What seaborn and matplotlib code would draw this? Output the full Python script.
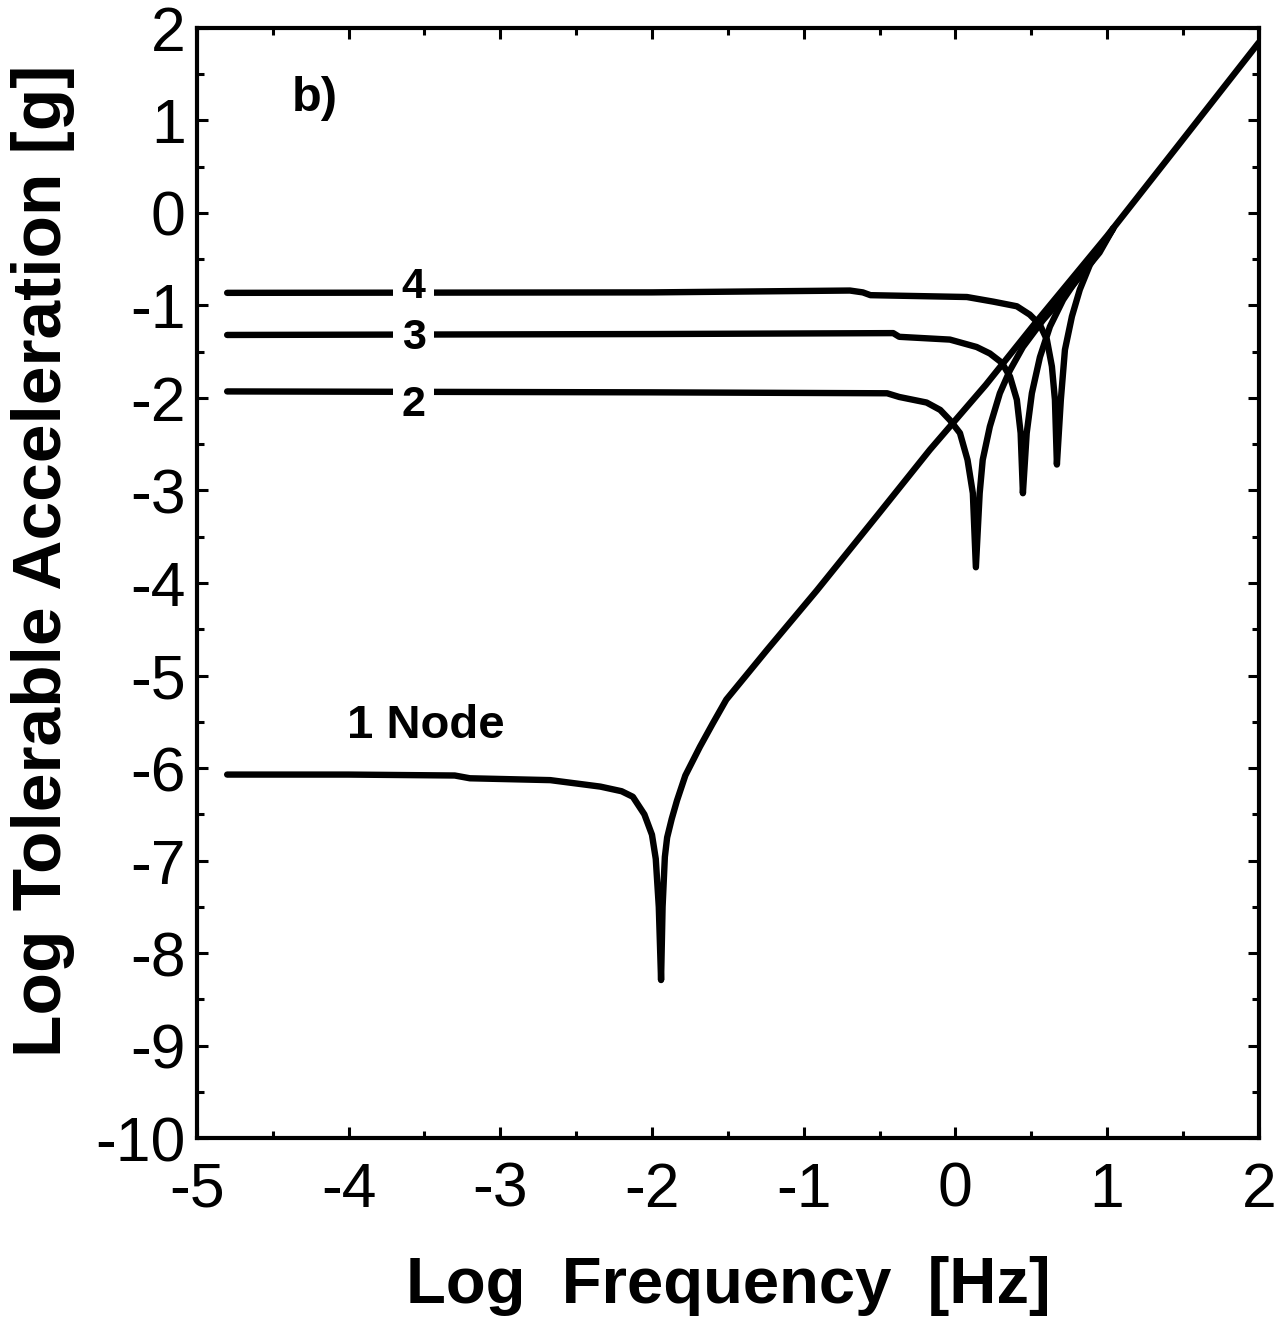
import matplotlib
matplotlib.use("Agg")
import matplotlib.pyplot as plt
from matplotlib.ticker import MultipleLocator
import numpy as np
import pandas as pd
import seaborn as sns

# ---------------- data ----------------
x_node1 = [-4.8, -4.0, -3.3, -3.2, -2.67, -2.34, -2.2, -2.126, -2.05, -2.0, -1.975,
           -1.955, -1.94, -1.93, -1.915, -1.9, -1.87, -1.835, -1.78, -1.684, -1.6,
           -1.51, -1.24, -0.913, -0.5, -0.168, 0.2, 0.537, 1.0, 1.46, 2.0]
y_node1 = [-6.07, -6.07, -6.08, -6.11, -6.13, -6.2, -6.25, -6.31, -6.5, -6.72, -6.98,
           -7.5, -8.29, -7.5, -6.96, -6.75, -6.55, -6.35, -6.08, -5.77, -5.52,
           -5.26, -4.72, -4.08, -3.24, -2.56, -1.86, -1.17, -0.25, 0.71, 1.84]

x_node2 = [-4.8, -2.0, -0.45, -0.37, -0.19, -0.10, -0.036, 0.03, 0.08, 0.115, 0.135,
           0.16, 0.18, 0.227, 0.293, 0.36, 0.445, 0.577, 0.71, 0.84, 0.95, 1.04]
y_node2 = [-1.93, -1.94, -1.95, -1.99, -2.05, -2.13, -2.24, -2.38, -2.67, -3.03, -3.83,
           -3.03, -2.67, -2.31, -1.95, -1.70, -1.45, -1.16, -0.91, -0.65, -0.43, -0.17]

x_node3 = [-4.8, -2.0, -0.41, -0.37, -0.036, 0.14, 0.227, 0.306, 0.36, 0.405, 0.43,
           0.445, 0.47, 0.504, 0.557, 0.623, 0.71, 0.80, 0.887, 0.97, 1.04]
y_node3 = [-1.32, -1.31, -1.30, -1.34, -1.37, -1.45, -1.52, -1.62, -1.77, -2.02, -2.38,
           -3.03, -2.38, -1.95, -1.56, -1.23, -0.94, -0.72, -0.52, -0.35, -0.17]

x_node4 = [-4.8, -2.0, -0.695, -0.61, -0.56, 0.076, 0.25, 0.405, 0.49, 0.557, 0.603,
           0.636, 0.656, 0.669, 0.695, 0.722, 0.768, 0.82, 0.887, 0.973, 1.04]
y_node4 = [-0.865, -0.86, -0.84, -0.86, -0.89, -0.91, -0.96, -1.01, -1.10, -1.21, -1.37,
           -1.66, -2.02, -2.72, -2.02, -1.48, -1.12, -0.83, -0.56, -0.34, -0.17]

curve_names = ["1", "2", "3", "4"]
label_x = [-3.49, -3.57, -3.57, -3.57]
label_y = [-5.55, -2.08, -1.35, -0.80]

# ---------------- build table ----------------
frames = []
for name, xs, ys in zip(curve_names, [x_node1, x_node2, x_node3, x_node4],
                        [y_node1, y_node2, y_node3, y_node4]):
    frames.append(pd.DataFrame({"logf": xs, "loga": ys, "curve": name}))
df = pd.concat(frames, ignore_index=True)

# ---------------- style ----------------
sns.set_theme(style="ticks")
plt.rcParams["font.family"] = ["Liberation Sans", "DejaVu Sans"]
plt.rcParams["axes.unicode_minus"] = False
for key in ["text.color", "axes.labelcolor", "xtick.color", "ytick.color", "axes.edgecolor"]:
    plt.rcParams[key] = "black"

fig = plt.figure(figsize=(12.78, 13.19), dpi=100)
ax = fig.add_axes([0.154, 0.137, 0.831, 0.842])

sns.lineplot(data=df, x="logf", y="loga", units="curve", estimator=None, sort=False,
             color="black", linewidth=4.6, ax=ax, legend=False)

ax.set_xlim(-5, 2)
ax.set_ylim(-10, 2)
ax.xaxis.set_major_locator(MultipleLocator(1))
ax.xaxis.set_minor_locator(MultipleLocator(0.5))
ax.yaxis.set_major_locator(MultipleLocator(1))
ax.yaxis.set_minor_locator(MultipleLocator(0.5))
ax.tick_params(which="both", direction="in", top=True, right=True, width=2.2, color="black")
ax.tick_params(which="major", length=8)
ax.tick_params(which="minor", length=5)
ax.tick_params(axis="x", which="major", pad=16, labelsize=45)
ax.tick_params(axis="y", which="major", pad=8, labelsize=45)
for sp in ax.spines.values():
    sp.set_linewidth(3)
    sp.set_color("black")

ax.set_xlabel("Log  Frequency  [Hz]", fontsize=47, fontweight="bold", labelpad=26)
ax.set_ylabel("Log Tolerable Acceleration [g]", fontsize=50, fontweight="bold")
ax.yaxis.set_label_coords(-0.1145, 0.52)

# curve labels
ax.text(label_x[0], label_y[0], "1 Node", fontsize=34, fontweight="bold",
        ha="center", va="center")
for i in range(1, 4):
    ax.text(label_x[i], label_y[i], curve_names[i], fontsize=31, fontweight="bold",
            ha="center", va="center",
            bbox=dict(boxstyle="square,pad=0.2", facecolor="white", edgecolor="none"))
ax.text(-4.22, 1.23, "b)", fontsize=35, fontweight="bold", ha="center", va="center")

fig.savefig("out.png", dpi=100, facecolor="white")
